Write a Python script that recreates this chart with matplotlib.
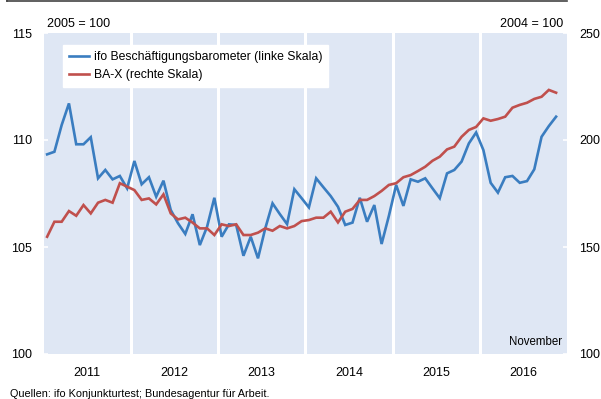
import matplotlib
matplotlib.use("Agg")
import matplotlib.pyplot as plt
from matplotlib.lines import Line2D

plt.rcParams['font.family'] = ['Liberation Sans', 'DejaVu Sans']

# Monthly values, Jan 2011 - Nov 2016
ifo_barometer = [
    109.33, 109.45, 110.70, 111.71, 109.80, 109.80, 110.13, 108.21, 108.60, 108.16, 108.32, 107.74,  # 2011
    109.02, 107.93, 108.26, 107.35, 108.10, 106.73, 106.11, 105.61, 106.53, 105.09, 105.95, 107.30,  # 2012
    105.48, 106.06, 106.03, 104.59, 105.48, 104.47, 105.87, 107.04, 106.54, 106.07, 107.70, 107.28,  # 2013
    106.85, 108.21, 107.79, 107.38, 106.88, 106.03, 106.14, 107.30, 106.18, 106.96, 105.14, 106.45,  # 2014
    107.90, 106.92, 108.16, 108.05, 108.21, 107.74, 107.28, 108.44, 108.60, 108.99, 109.84, 110.35,  # 2015
    109.53, 108.00, 107.54, 108.26, 108.32, 108.00, 108.08, 108.63, 110.15, 110.65, 111.09,          # 2016
]
ba_x = [
    154.8, 161.8, 161.8, 166.8, 164.6, 169.6, 165.7, 170.7, 172.0, 170.7, 179.8, 178.2,  # 2011
    176.6, 172.0, 172.7, 169.9, 174.6, 165.7, 162.9, 163.7, 161.4, 158.7, 158.7, 155.6,  # 2012
    160.6, 159.8, 160.6, 155.6, 155.6, 156.7, 158.7, 157.6, 159.8, 158.7, 159.8, 162.1,  # 2013
    162.6, 163.7, 163.7, 166.5, 161.5, 166.5, 167.8, 172.0, 172.0, 173.8, 176.2, 179.0,  # 2014
    179.8, 182.6, 183.6, 185.5, 187.5, 190.3, 192.2, 195.6, 196.9, 201.5, 204.7, 206.1,  # 2015
    210.1, 209.0, 209.8, 210.9, 215.1, 216.4, 217.4, 219.2, 220.2, 223.4, 222.1,         # 2016
]
years = ['2011', '2012', '2013', '2014', '2015', '2016']
left_ticks = [100, 105, 110, 115]
right_ticks = [100, 150, 200, 250]

label_ifo = 'ifo Beschäftigungsbarometer (linke Skala)'
label_bax = 'BA-X (rechte Skala)'

BLUE = '#3a7dc0'
RED = '#c0504d'
BG = '#dfe7f4'

fig = plt.figure(figsize=(6.01, 3.99), dpi=100)
W, H = 601, 399
x0, x1, y0, y1 = 43.5, 567, 33, 354
ax = fig.add_axes([x0 / W, 1 - y1 / H, (x1 - x0) / W, (y1 - y0) / H])
ax2 = ax.twinx()

ax.set_facecolor(BG)
n_months = 12 * len(years)
ax.set_xlim(0, n_months)
ax.set_ylim(left_ticks[0], left_ticks[-1])
ax2.set_ylim(right_ticks[0], right_ticks[-1])

# white separators between years
for k in range(1, len(years)):
    ax.axvline(12 * k, color='white', lw=2.2, zorder=1)

xs = [i + 0.5 for i in range(len(ifo_barometer))]
xr = [i + 0.5 for i in range(len(ba_x))]
ax.plot(xs, ifo_barometer, color=BLUE, lw=1.9, zorder=3, solid_joinstyle='miter')
ax2.plot(xr, ba_x, color=RED, lw=1.9, zorder=3, solid_joinstyle='miter')

for a in (ax, ax2):
    for s in a.spines.values():
        s.set_visible(False)

ax.set_yticks(left_ticks)
ax.set_yticklabels([str(t) for t in left_ticks])
ax.tick_params(axis='y', direction='in', length=3, width=1.2, color='white',
               labelsize=9, pad=8.3, labelcolor='black')
ax2.set_yticks(right_ticks)
ax2.set_yticklabels([str(t) for t in right_ticks])
ax2.tick_params(axis='y', direction='in', length=3, width=1.2, color='white',
                labelsize=9, pad=8.6, labelcolor='black')

ax.set_xticks([12 * k + 6 for k in range(len(years))])
ax.set_xticklabels(years)
ax.tick_params(axis='x', length=0, labelsize=9, pad=9)

handles = [Line2D([], [], color=BLUE, lw=1.9), Line2D([], [], color=RED, lw=1.9)]
leg = ax2.legend(handles, [label_ifo, label_bax], loc='upper left',
                 bbox_to_anchor=((63 - x0) / (x1 - x0), (y1 - 45) / (y1 - y0)),
                 fontsize=8.8, frameon=True, fancybox=False, framealpha=1,
                 edgecolor='white', facecolor='white', handlelength=1.6,
                 handletextpad=0.4, labelspacing=0.5, borderpad=0.5,
                 borderaxespad=0)

fig.text(47 / W, 1 - 24 / H, '2005 = 100', fontsize=9, va='center', ha='left')
fig.text(563 / W, 1 - 24 / H, '2004 = 100', fontsize=9, va='center', ha='right')
ax.text(0.99, 0.02, 'November', transform=ax.transAxes, fontsize=8.3,
        ha='right', va='bottom', zorder=5)
fig.text(10 / W, 1 - 394 / H, 'Quellen: ifo Konjunkturtest; Bundesagentur für Arbeit.',
         fontsize=7.8, va='center', ha='left')

# frame line along the top edge
fig.add_artist(Line2D([7 / W, 567 / W], [1 - 1 / H, 1 - 1 / H], color='#444444', lw=1.2))
fig.add_artist(Line2D([7 / W, 7 / W], [1 - 1 / H, 1.0], color='#444444', lw=1.2))

fig.savefig('out.png', dpi=100)
